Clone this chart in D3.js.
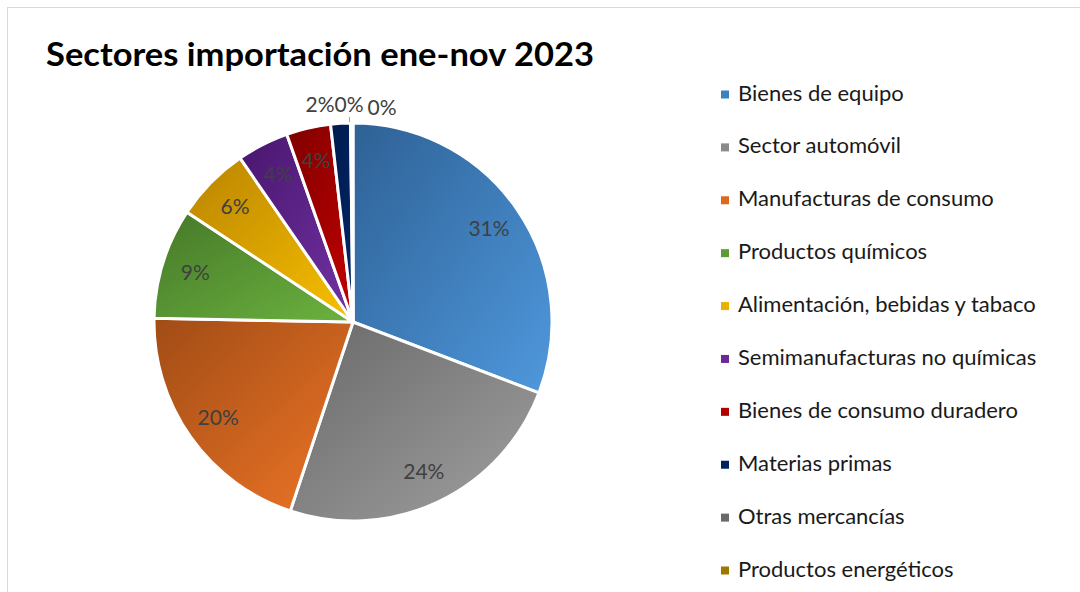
<!DOCTYPE html>
<html><head><meta charset="utf-8">
<script src="https://cdn.jsdelivr.net/npm/d3@7"></script>
<style>
html,body{margin:0;padding:0;background:#fff;}
svg{display:block;font-family:Lato,"Open Sans",sans-serif;}
</style></head><body>
<svg id="chart" width="1080" height="592"></svg>
<script>
const categories = ["Bienes de equipo","Sector automóvil","Manufacturas de consumo","Productos químicos","Alimentación, bebidas y tabaco","Semimanufacturas no químicas","Bienes de consumo duradero","Materias primas","Otras mercancías","Productos energéticos"];
const values = [30.8, 24.3, 20.2, 9.0, 6.1, 4.2, 3.6, 1.6, 0.15, 0.05];
const labels = ["31%","24%","20%","9%","6%","4%","4%","2%","0%","0%"];
const colorsDark  = ["#2E6195","#696969","#A14C16","#457828","#B98300","#49166E","#7E0000","#001A4C","#5F5F5F","#8A6A00"];
const colorsLight = ["#4F98DD","#A0A0A0","#EE7526","#6CB23F","#F8C100","#7232A3","#C40000","#002669","#7A7A7A","#A88200"];
const legendColors = ["#3F7EC0","#8A8A8A","#D96A1E","#5E9A35","#E9B000","#6A2898","#B00000","#002060","#6A6A6A","#9E7700"];
const title = "Sectores importación ene-nov 2023";

const svg = d3.select("#chart");
// chart border
svg.append("rect").attr("x",7.5).attr("y",7.5).attr("width",1200).attr("height",700)
  .attr("fill","none").attr("stroke","#d9d9d9").attr("stroke-width",1);

svg.append("text").attr("x",46).attr("y",66).attr("font-size",32).attr("font-weight",700)
  .attr("fill","#000").attr("textLength",548).attr("lengthAdjust","spacingAndGlyphs").text(title);

const defs = svg.append("defs");
categories.forEach((c,i)=>{
  const g = defs.append("linearGradient").attr("id","g"+i)
    .attr("x1","0").attr("y1","0").attr("x2","1").attr("y2","1");
  g.append("stop").attr("offset","0").attr("stop-color",colorsDark[i]);
  g.append("stop").attr("offset","1").attr("stop-color",colorsLight[i]);
});

const cx = 353, cy = 322, r = 199;
const pie = d3.pie().sort(null).value(d=>d);
const arcs = pie(values);
const arc = d3.arc().innerRadius(0).outerRadius(r);
const labelArc = d3.arc().innerRadius(r*0.83).outerRadius(r*0.83);

const g = svg.append("g").attr("transform",`translate(${cx},${cy})`);
g.selectAll("path").data(arcs).join("path")
  .attr("d",arc).attr("fill",(d,i)=>`url(#g${i})`)
  .attr("stroke","#fff").attr("stroke-width",3).attr("stroke-linejoin","round");

// inside labels
g.selectAll("text.in").data(arcs.filter(d=>d.value>=3)).join("text")
  .attr("class","in")
  .attr("transform",d=>`translate(${labelArc.centroid(d)})`)
  .attr("text-anchor","middle").attr("dy","0.35em")
  .attr("font-size",21).attr("fill","#404040")
  .text(d=>labels[d.index]);

// outside labels for small slices
const small = arcs.filter(d=>d.value<3);
const outX = [-33, -4, 29];
const outY = [-r-11, -r-11, -r-8.5];
small.forEach((d,k)=>{
  g.append("text").attr("x",outX[k]).attr("y",outY[k])
    .attr("text-anchor","middle").attr("font-size",21).attr("fill","#404040")
    .text(labels[d.index]);
});
// leader line
const mid = (small[1].startAngle+small[1].endAngle)/2;
g.append("line")
  .attr("x1",Math.sin(mid)*(r-6)-2).attr("y1",-Math.cos(mid)*(r+6))
  .attr("x2",Math.sin(mid)*(r-6)-2).attr("y2",-Math.cos(mid)*(r+1))
  .attr("stroke","#a6a6a6").attr("stroke-width",1);

// legend
const leg = svg.append("g");
const ly = d3.scalePoint().domain(categories).range([100.5, 576.5]);
categories.forEach((c,i)=>{
  leg.append("rect").attr("x",721).attr("y",ly(c)-10).attr("width",8).attr("height",8)
    .attr("fill",legendColors[i]);
  leg.append("text").attr("x",738).attr("y",ly(c)).attr("font-size",22).attr("fill","#1a1a1a").text(c);
});
</script>
</body></html>
